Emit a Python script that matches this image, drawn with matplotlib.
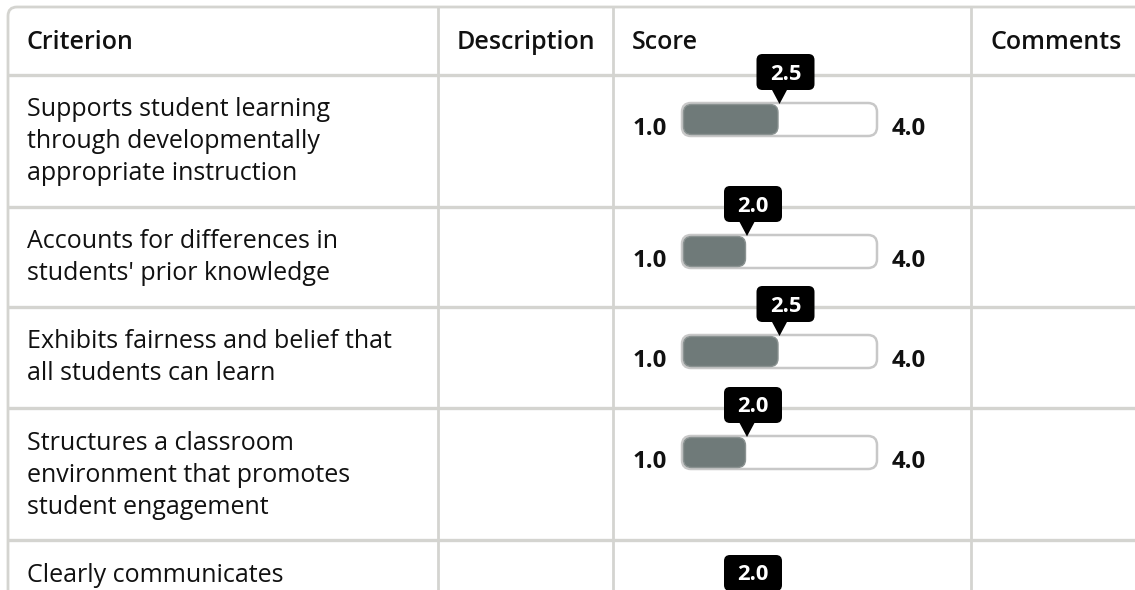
import matplotlib.pyplot as plt
from matplotlib.patches import FancyBboxPatch, Polygon

plt.rcParams['font.family'] = ['Open Sans', 'DejaVu Sans']

headers = ["Criterion", "Description", "Score", "Comments"]
criteria = [
    "Supports student learning\nthrough developmentally\nappropriate instruction",
    "Accounts for differences in\nstudents' prior knowledge",
    "Exhibits fairness and belief that\nall students can learn",
    "Structures a classroom\nenvironment that promotes\nstudent engagement",
    "Clearly communicates",
]
scores = [2.5, 2.0, 2.5, 2.0, 2.0]
score_min, score_max = 1.0, 4.0

# layout in pixels
W, H = 1135, 590
col_x = [8, 438, 613, 971]
row_y = [7, 75, 207, 307, 408, 540]
track_off = [28, 28, 28, 28, 64]
grid_c = "#d4d4d0"
PT = 0.72  # px -> pt at dpi 100

fig = plt.figure(figsize=(W / 100, H / 100), dpi=100)
ax = fig.add_axes([0, 0, 1, 1])
ax.set_xlim(0, W)
ax.set_ylim(H, 0)
ax.axis("off")

# outer border with rounded top-left corner
ax.add_patch(FancyBboxPatch((col_x[0], row_y[0]), W + 50, H + 50,
                            boxstyle="round,pad=0,rounding_size=9",
                            fc="white", ec=grid_c, lw=2, zorder=0))
for x in col_x[1:]:
    ax.plot([x, x], [row_y[0], H + 5], color=grid_c, lw=2, solid_capstyle="butt", zorder=1)
for y in row_y[1:]:
    ax.plot([col_x[0], W + 5], [y, y], color=grid_c, lw=2.4, solid_capstyle="butt", zorder=1)

pad = 19
for x, h in zip(col_x, headers):
    ax.text(x + pad, row_y[0] + 42, h, fontsize=25 * PT, fontweight="semibold",
            color="#111111", va="baseline")

tl, tr = 682, 877
th = 33
for i, (txt, s) in enumerate(zip(criteria, scores)):
    top = row_y[i + 1]
    for j, line in enumerate(txt.split("\n")):
        ax.text(col_x[0] + pad, top + 41.5 + j * 32, line, fontsize=25 * PT,
                color="#111111", va="baseline")
    T = top + track_off[i]
    vx = tl + (s - score_min) / (score_max - score_min) * (tr - tl)
    if T < H:
        # track and end labels
        ax.add_patch(FancyBboxPatch((tl, T), tr - tl, th,
                                    boxstyle="round,pad=0,rounding_size=9",
                                    fc="white", ec="#c8c8c8", lw=1.8, zorder=2))
        ax.add_patch(FancyBboxPatch((tl + 1.5, T + 1.5), vx - tl - 3, th - 3,
                                    boxstyle="round,pad=0,rounding_size=8",
                                    fc="#6f7a79", ec="#8a9291", lw=1, zorder=3))
        ax.text(tl - 15, T + 32, f"{score_min:.1f}", fontsize=24 * PT, fontweight="bold",
                color="#111111", ha="right", va="baseline")
        ax.text(tr + 15, T + 32, f"{score_max:.1f}", fontsize=24 * PT, fontweight="bold",
                color="#111111", va="baseline")
    # tooltip
    bw, bh = 58, 36
    bx0, bt = vx + 6 - bw / 2, T - 49
    ax.add_patch(FancyBboxPatch((bx0, bt), bw, bh,
                                boxstyle="round,pad=0,rounding_size=6",
                                fc="black", ec="black", lw=0, zorder=4))
    ax.add_patch(Polygon([[vx - 8, bt + bh - 1], [vx + 8, bt + bh - 1], [vx, T + 1]],
                         closed=True, fc="black", ec="none", zorder=4))
    ax.text(bx0 + bw / 2, bt + bh / 2 + 2, f"{s:.1f}", fontsize=22 * PT,
            fontweight="bold", color="white", ha="center", va="center", zorder=5)

fig.savefig("out.png", dpi=100)
